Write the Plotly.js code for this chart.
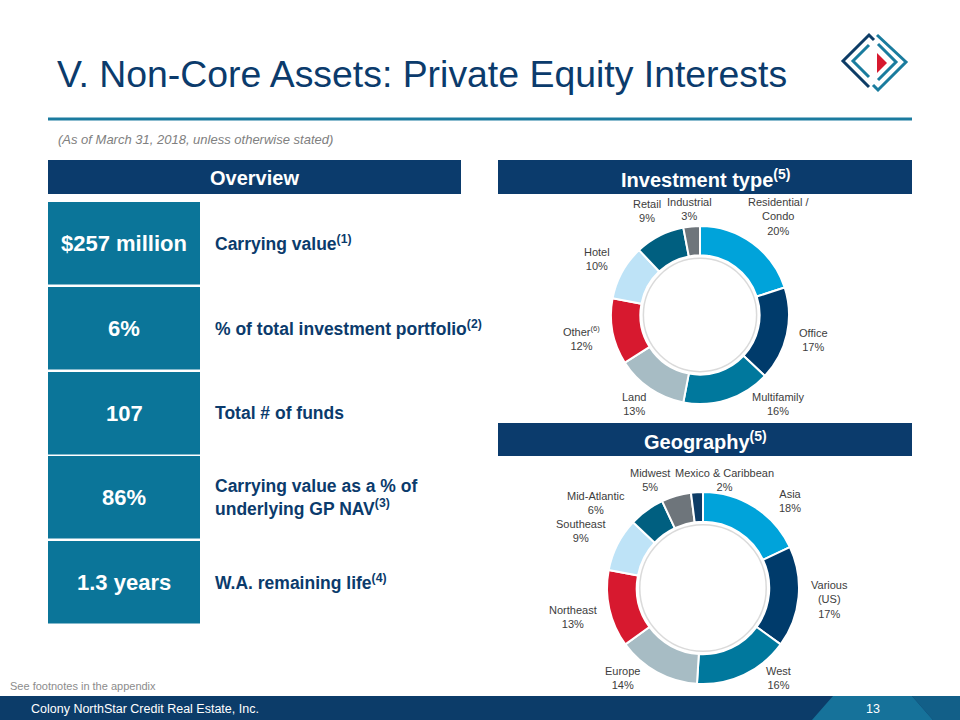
<!DOCTYPE html>
<html><head><meta charset="utf-8">
<script src="https://cdn.plot.ly/plotly-3.0.1.min.js"></script>
<style>html,body{margin:0;padding:0;background:#fff}#chart{width:960px;height:720px}</style>
</head><body><div id="chart"></div>
<script>
// ---- data ----
const typeLabels = ['Residential / Condo','Office','Multifamily','Land','Other','Hotel','Retail','Industrial'];
const typeValues = [20,17,16,13,12,10,9,3];
const geoLabels = ['Asia','Various (US)','West','Europe','Northeast','Southeast','Mid-Atlantic','Midwest','Mexico & Caribbean'];
const geoValues = [18,17,16,14,13,9,6,5,2];
const overviewValues = ['$257 million','6%','107','86%','1.3 years'];
const overviewLabels = ['Carrying value<sup>(1)</sup>','% of total investment portfolio<sup>(2)</sup>','Total # of funds','Carrying value as a % of<br>underlying GP NAV<sup>(3)</sup>','W.A. remaining life<sup>(4)</sup>'];

// ---- styling ----
const W = 960, H = 720;
const X = p => p / W, Y = p => 1 - p / H;
const FONT = 'Arial, "Liberation Sans", sans-serif';
const NAVY = '#0b3b6c', TEAL = '#0b7599';
const sliceColors = ['#00a3da','#003b6b','#00789d','#a7bcc4','#d7192f','#bee3f7','#005f80','#6e757b','#0d3c66'];
const wrap = {'Residential / Condo':'Residential /<br>Condo','Other':'Other<sup>(6)</sup>','Various (US)':'Various<br>(US)'};
const disp = l => wrap[l] || l;

const shapes = [];
const annotations = [];
const rect = (x0, y0, x1, y1, fill) => shapes.push({type: 'rect', xref: 'paper', yref: 'paper', x0: X(x0), x1: X(x1), y0: Y(y1), y1: Y(y0), fillcolor: fill, line: {width: 0}, layer: 'below'});
const path = (pts, opts) => {
  const d = pts.map((p, i) => (i ? 'L' : 'M') + X(p[0]) + ',' + Y(p[1])).join(' ') + (opts.close ? ' Z' : '');
  shapes.push(Object.assign({type: 'path', xref: 'paper', yref: 'paper', path: d}, opts.style));
};
const text = (x, y, t, size, color, opts) => annotations.push(Object.assign({
  xref: 'paper', yref: 'paper', x: X(x), y: Y(y), text: t, showarrow: false,
  font: {family: FONT, size: size, color: color}, xanchor: 'left', yanchor: 'middle', align: 'left'
}, opts || {}));

// ---- donut helpers ----
const LBL = 11;
const ctx = document.createElement('canvas').getContext('2d');
ctx.font = LBL + 'px Arial, "Liberation Sans", sans-serif';
const measure = lines => Math.max.apply(null, lines.map(l => ctx.measureText(l.replace(/<sup>(.*?)<\/sup>/g, '$1').replace(/<[^>]+>/g, '')).width * (/<sup>/.test(l) ? 0.92 : 1)));

function pie(labels, values, cx, cy, r, hole) {
  return {
    type: 'pie', labels: labels, values: values, textinfo: 'none',
    sort: false, direction: 'clockwise', rotation: 0, hole: hole,
    marker: {colors: sliceColors.slice(0, labels.length), line: {color: '#ffffff', width: 2}},
    domain: {x: [X(cx - r), X(cx + r)], y: [Y(cy + r), Y(cy - r)]},
    showlegend: false, hoverinfo: 'label+value'
  };
}

// labels placed outside the ring at each slice's mid-angle, kept inside the chart box and apart from each other
function donutLabels(labels, values, cx, cy, R, top, bottom) {
  const total = values.reduce((a, b) => a + b, 0);
  let acc = 0;
  const items = labels.map((l, i) => {
    const mid = (acc + values[i] / 2) / total * 360; acc += values[i];
    const lines = (disp(l) + '<br>' + values[i] + '%').split('<br>');
    return {theta: mid, w: measure(lines), h: lines.length * 14 - 4, text: lines.join('<br>')};
  });
  const G = 11, G2 = 4;
  const place = it => {
    const a = it.theta * Math.PI / 180, ux = Math.sin(a), uy = -Math.cos(a);
    const d = R + G + Math.abs(ux) * it.w / 2 + Math.abs(uy) * it.h / 2;
    let x = cx + ux * d, y = cy + uy * d, clamped = false;
    if (y - it.h / 2 < top) { y = top + it.h / 2; clamped = true; }
    if (y + it.h / 2 > bottom) { y = bottom - it.h / 2; clamped = true; }
    if (clamped) {
      const dyEdge = y > cy ? (y - it.h / 2 - cy) : (cy - (y + it.h / 2));
      if (dyEdge < R - 0.5) {
        const need = Math.sqrt((R + G2) * (R + G2) - dyEdge * dyEdge) + it.w / 2;
        if (Math.abs(x - cx) < need) x = cx + (ux >= 0 ? 1 : -1) * need;
      }
    }
    it.x = x; it.y = y;
  };
  const pad = 2;
  const overlap = (p, q) => Math.abs(p.x - q.x) < (p.w + q.w) / 2 + 2 * pad && Math.abs(p.y - q.y) < (p.h + q.h) / 2 + 2 * pad;
  for (let iter = 0; iter < 400; iter++) {
    items.forEach(place);
    let moved = false;
    for (let i = 0; i < items.length; i++) {
      for (let j = i + 1; j < items.length; j++) {
        if (!overlap(items[i], items[j])) continue;
        let early = items[i], late = items[j];
        if (late.theta - early.theta > 180) { early = items[j]; late = items[i]; }
        early.theta -= 0.5; late.theta += 0.5; moved = true;
      }
    }
    if (!moved) break;
  }
  items.forEach(it => text(it.x, it.y, it.text, LBL, '#3d3d3d', {xanchor: 'center', align: 'center'}));
}

function innerShadow(cx, cy, r) {
  shapes.push({type: 'circle', xref: 'paper', yref: 'paper', x0: X(cx - r), x1: X(cx + r), y0: Y(cy + r), y1: Y(cy - r),
    line: {color: 'rgba(150,150,150,0.35)', width: 1.5}, fillcolor: 'rgba(0,0,0,0)'});
}

// title
text(55, 74, 'V. Non-Core Assets: Private Equity Interests', 37.4, NAVY);
rect(48, 117.5, 912, 120.5, '#1b7b9f');
text(56, 140, '<i>(As of March 31, 2018, unless otherwise stated)</i>', 13, '#808080');

// logo
const lineStyle = c => ({line: {color: c, width: 3}, fillcolor: 'rgba(0,0,0,0)'});
path([[874,40],[869,35],[843,61],[869,87]], {style: lineStyle('#0d3c66')});
path([[877,35],[906,62],[878,90],[873,85]], {style: lineStyle('#1a7c9e')});
path([[869,45],[853,61],[869,77]], {style: lineStyle('#1a7c9e')});
path([[878,44],[896,62],[878,80]], {style: lineStyle('#1a7c9e')});
path([[877,53],[887,63],[877,73]], {close: true, style: {line: {width: 0}, fillcolor: '#d7192f'}});

// headers
rect(48, 160, 461, 194, NAVY);
text(254, 178, '<b>Overview</b>', 20, '#ffffff', {xanchor: 'center'});
rect(498, 160, 912, 194, NAVY);
text(705, 178, '<b>Investment type<sup>(5)</sup></b>', 20, '#ffffff', {xanchor: 'center'});
rect(498, 423, 912, 456, NAVY);
text(705, 440, '<b>Geography<sup>(5)</sup></b>', 20, '#ffffff', {xanchor: 'center'});

// overview table
const rowTops = [202, 287, 372, 456, 541];
const rowH = 82.5;
overviewValues.forEach((v, i) => {
  const y0 = rowTops[i], yc = y0 + rowH / 2;
  rect(48, y0, 200, y0 + rowH, TEAL);
  text(124, yc, '<b>' + v + '</b>', 22, '#ffffff', {xanchor: 'center'});
  text(213, yc, '<b>' + overviewLabels[i] + '</b>', 17.5, NAVY);
});

// footer
text(8, 686, 'See footnotes in the appendix', 11, '#8c8c8c');
rect(0, 696, 960, 720, '#0c3c69');
path([[812,720],[833,696],[912,696],[933,720]], {close: true, style: {line: {width: 0}, fillcolor: '#16729a'}});
path([[912,696],[960,696],[960,720],[933,720]], {close: true, style: {line: {width: 0}, fillcolor: '#125f88'}});
text(29, 709, 'Colony NorthStar Credit Real Estate, Inc.', 12.5, '#ffffff');
text(873, 709, '13', 12.5, '#ffffff', {xanchor: 'center'});

// donuts
const D1 = {cx: 700, cy: 315, r: 89, hole: 0.67, top: 197, bottom: 416};
const D2 = {cx: 703, cy: 588, r: 96, hole: 0.69, top: 468, bottom: 690};
const data = [
  pie(typeLabels, typeValues, D1.cx, D1.cy, D1.r, D1.hole),
  pie(geoLabels, geoValues, D2.cx, D2.cy, D2.r, D2.hole)
];
innerShadow(D1.cx, D1.cy, D1.r * D1.hole - 3);
innerShadow(D2.cx, D2.cy, D2.r * D2.hole - 3);
donutLabels(typeLabels, typeValues, D1.cx, D1.cy, D1.r, D1.top, D1.bottom);
donutLabels(geoLabels, geoValues, D2.cx, D2.cy, D2.r, D2.top, D2.bottom);

const layout = {
  width: W, height: H, margin: {l: 0, r: 0, t: 0, b: 0},
  paper_bgcolor: '#ffffff', plot_bgcolor: '#ffffff',
  font: {family: FONT},
  shapes: shapes, annotations: annotations, showlegend: false
};
Plotly.newPlot('chart', data, layout, {displayModeBar: false, staticPlot: true});
</script>
</body></html>
